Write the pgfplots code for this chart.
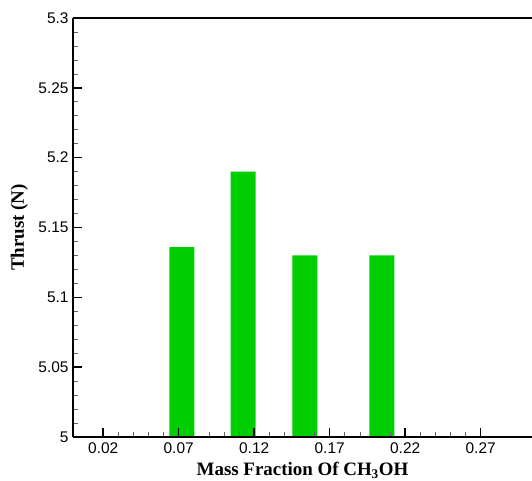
\documentclass[border=0pt]{standalone}
\usepackage{fontspec}
\setmainfont{Liberation Serif}
\newfontfamily\arialf{Liberation Sans}
\usepackage{pgfplots}
\pgfplotsset{compat=1.18}
\definecolor{bargreen}{RGB}{0,206,0}
\begin{document}
\begin{tikzpicture}
\begin{axis}[
  scale only axis, width=459bp, height=419bp,
  at={(0,0)}, anchor=south west,
  axis on top,
  xmin=0, xmax=0.304, ymin=5, ymax=5.3,
  axis y line*=left,
  y axis line style={-},
  xtick={0.02,0.07,0.12,0.17,0.22,0.27},
  xticklabels={0.02,0.07,0.12,0.17,0.22,0.27},
  ytick={5,5.05,5.1,5.15,5.2,5.25,5.3},
  yticklabels={5,5.05,5.1,5.15,5.2,5.25,5.3},
  minor x tick num=4, minor y tick num=4,
  xtick pos=bottom, ytick pos=left,
  tick align=inside,
  major tick length=9bp, minor tick length=5bp,
  axis line style={line width=1.8bp},
  major tick style={black, line width=1.6bp},
  minor tick style={black!60, line width=0.7bp},
  tick label style={font=\arialf\fontsize{15.5}{18}\selectfont},
  x tick label style={yshift=-2bp},
  y tick label style={xshift=-1bp},
  xlabel={\textbf{Mass Fraction Of CH\textsubscript{3}OH}},
  ylabel={\textbf{Thrust (N)}},
  xlabel style={font=\fontsize{19}{22}\selectfont, at={(axis description cs:0.5,-0.079)}, anchor=center},
  ylabel style={font=\fontsize{19}{22}\selectfont, at={(axis description cs:-0.117,0.5)}, anchor=center},
]
\addplot[ybar, fill=bargreen, draw=none, bar width=0.0166] coordinates {
  (0.0721,5.136) (0.1127,5.190) (0.1536,5.130) (0.2046,5.130)
};
\end{axis}
\pgfresetboundingbox
\path[use as bounding box] (-73bp,-44bp) rectangle (459bp,437bp);
\end{tikzpicture}
\end{document}
